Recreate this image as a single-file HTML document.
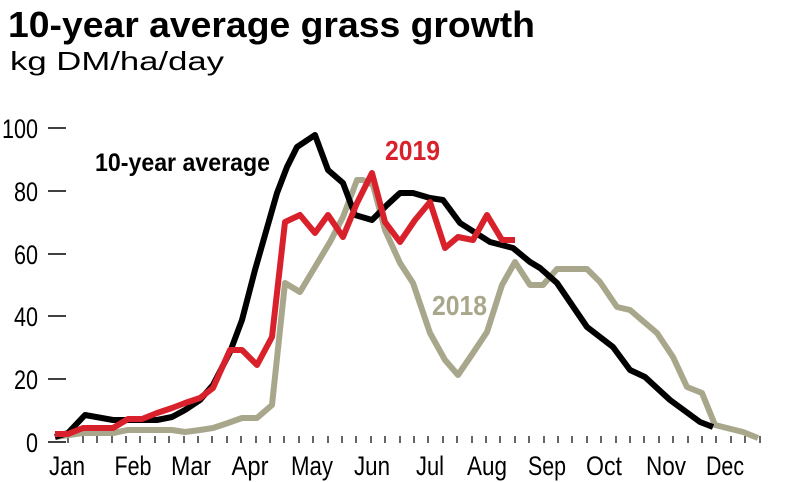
<!DOCTYPE html>
<html><head><style>
body{margin:0;background:#fff;}
svg{display:block;}
text{font-family:"Liberation Sans",sans-serif;}
</style></head><body>
<svg width="790" height="482" viewBox="0 0 790 482" xmlns="http://www.w3.org/2000/svg">
<text x="8" y="37" font-size="36" font-weight="bold" textLength="527" lengthAdjust="spacingAndGlyphs">10-year average grass growth</text>
<text x="10" y="70" font-size="26" textLength="214" lengthAdjust="spacingAndGlyphs">kg DM/ha/day</text>
<g font-size="27" text-anchor="end" lengthAdjust="spacingAndGlyphs">
<text x="38" y="138" textLength="36" lengthAdjust="spacingAndGlyphs">100</text>
<text x="38" y="201" textLength="24" lengthAdjust="spacingAndGlyphs">80</text>
<text x="38" y="264" textLength="24" lengthAdjust="spacingAndGlyphs">60</text>
<text x="38" y="326" textLength="24" lengthAdjust="spacingAndGlyphs">40</text>
<text x="38" y="389" textLength="24" lengthAdjust="spacingAndGlyphs">20</text>
<text x="38" y="452" textLength="12" lengthAdjust="spacingAndGlyphs">0</text>
</g>
<g stroke="#000" stroke-width="1.5">
<line x1="48" y1="128" x2="66" y2="128"/><line x1="48" y1="191" x2="66" y2="191"/>
<line x1="48" y1="254" x2="66" y2="254"/><line x1="48" y1="316" x2="66" y2="316"/>
<line x1="48" y1="379" x2="66" y2="379"/><line x1="48" y1="442" x2="66" y2="442"/>
</g>
<g stroke="#000" stroke-width="1.2">
<path d="M68 436V443M83 436V443M97 436V443M112 436V443M126 436V443M140 436V443M155 436V443M169 436V443M184 436V443M198 436V443M212 436V443M227 436V443M241 436V443M256 436V443M270 436V443M284 436V443M299 436V443M313 436V443M328 436V443M342 436V443M356 436V443M371 436V443M385 436V443M400 436V443M414 436V443M428 436V443M443 436V443M457 436V443M472 436V443M486 436V443M500 436V443M515 436V443M529 436V443M544 436V443M558 436V443M572 436V443M587 436V443M601 436V443M616 436V443M630 436V443M644 436V443M659 436V443M673 436V443M688 436V443M702 436V443M716 436V443M731 436V443M745 436V443M760 436V443"/>
</g>
<g font-size="27" text-anchor="middle">
<text x="67" y="475" textLength="36" lengthAdjust="spacingAndGlyphs">Jan</text>
<text x="133" y="475" textLength="37" lengthAdjust="spacingAndGlyphs">Feb</text>
<text x="191" y="475" textLength="40" lengthAdjust="spacingAndGlyphs">Mar</text>
<text x="250" y="475" textLength="37" lengthAdjust="spacingAndGlyphs">Apr</text>
<text x="312" y="475" textLength="42" lengthAdjust="spacingAndGlyphs">May</text>
<text x="372" y="475" textLength="36" lengthAdjust="spacingAndGlyphs">Jun</text>
<text x="430" y="475" textLength="28" lengthAdjust="spacingAndGlyphs">Jul</text>
<text x="487" y="475" textLength="40" lengthAdjust="spacingAndGlyphs">Aug</text>
<text x="547" y="475" textLength="38" lengthAdjust="spacingAndGlyphs">Sep</text>
<text x="604" y="475" textLength="36" lengthAdjust="spacingAndGlyphs">Oct</text>
<text x="666" y="475" textLength="40" lengthAdjust="spacingAndGlyphs">Nov</text>
<text x="725" y="475" textLength="38" lengthAdjust="spacingAndGlyphs">Dec</text>
</g>
<g fill="none" stroke-width="6" stroke-linejoin="round">
<polyline stroke="#a9a78b" points="55,437 83,433 113,433 128,430 143,430 172,430 185,432 200,430 213,428 228,423 242,418 257,418 272,405 285,283 300,292 315,267 330,242 343,217 357,180 363,180 373,185 385,230 400,263 413,283 430,333 445,360 458,375 473,353 487,332 502,285 515,262 530,285 543,285 557,269 587,269 600,282 617,307 630,310 657,333 673,357 687,387 702,393 715,425 743,432 758,438"/>
<polyline stroke="#000" points="55,437 68,433 85,415 113,420 143,420 157,420 172,417 185,410 200,400 213,385 230,352 242,320 255,270 277,193 287,167 297,147 315,135 328,170 343,183 355,215 372,220 387,205 400,193 413,193 430,198 443,200 460,223 490,242 513,248 530,262 540,268 557,283 587,327 613,347 630,370 645,377 670,400 700,422 713,427"/>
<polyline stroke="#d9212c" points="55,434 68,434 83,428 113,428 128,419 142,419 157,413 172,408 185,403 200,398 213,388 230,350 242,350 257,365 272,337 285,222 300,215 315,233 328,215 343,237 357,203 372,173 385,222 400,242 415,220 430,202 445,248 458,237 473,240 487,215 502,240 515,240"/>
</g>
<text x="95" y="171" font-size="25" font-weight="bold" textLength="175" lengthAdjust="spacingAndGlyphs">10-year average</text>
<text x="385" y="160" font-size="28" font-weight="bold" fill="#d9212c" textLength="55" lengthAdjust="spacingAndGlyphs">2019</text>
<text x="432" y="315" font-size="28" font-weight="bold" fill="#a9a78b" textLength="55" lengthAdjust="spacingAndGlyphs">2018</text>
</svg>
</body></html>
